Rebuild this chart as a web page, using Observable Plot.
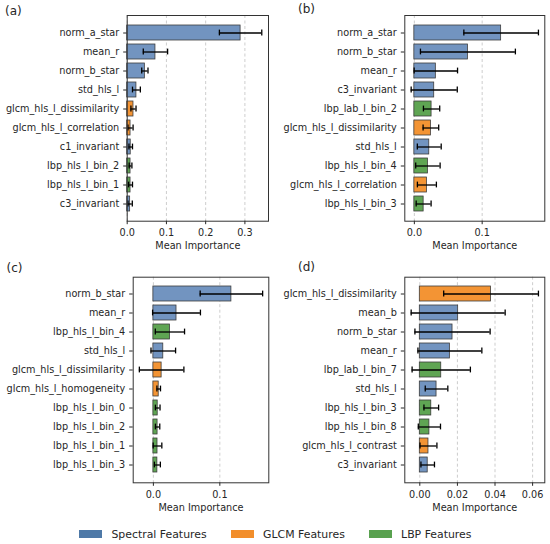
<!DOCTYPE html>
<html><head><meta charset="utf-8">
<script src="https://cdn.jsdelivr.net/npm/d3@7"></script>
<script src="https://cdn.jsdelivr.net/npm/@observablehq/plot@0.6"></script>
<style>
body{margin:0;background:#fff;}
#root{position:relative;width:550px;height:544px;font-family:"DejaVu Sans",sans-serif;color:#262626;}
.plabel{position:absolute;font-size:12px;line-height:14px;}
.leg{position:absolute;top:528px;height:12px;display:flex;align-items:center;font-size:10.9px;white-space:nowrap;}
.sw{display:inline-block;width:23px;height:8.5px;margin-right:9.4px;}
</style></head><body><div id="root"></div>
<script>
// ---- data ----
const groupNames = ["Spectral Features", "GLCM Features", "LBP Features"];
const barColors = ["#7294c0", "#f39434", "#5fa553"];
const legendColors = ["#4e79a7", "#f28e2b", "#59a14f"];

const aFeatures = ["norm_a_star","mean_r","norm_b_star","std_hls_l","glcm_hls_l_dissimilarity","glcm_hls_l_correlation","c1_invariant","lbp_hls_l_bin_2","lbp_hls_l_bin_1","c3_invariant"];
const aMean = [0.289,0.072,0.045,0.0235,0.016,0.0085,0.009,0.0085,0.0085,0.0075];
const aStd  = [0.054,0.031,0.008,0.010,0.0065,0.0065,0.0045,0.0035,0.005,0.0055];
const aGroup = ["Spectral Features","Spectral Features","Spectral Features","Spectral Features","GLCM Features","GLCM Features","Spectral Features","LBP Features","LBP Features","Spectral Features"];
const aTicks = [0, 0.1, 0.2, 0.3];

const bFeatures = ["norm_a_star","norm_b_star","mean_r","c3_invariant","lbp_lab_l_bin_2","glcm_hls_l_dissimilarity","std_hls_l","lbp_hls_l_bin_4","glcm_hls_l_correlation","lbp_hls_l_bin_3"];
const bMean = [0.128,0.079,0.0317,0.0293,0.0254,0.0244,0.022,0.020,0.0185,0.0137];
const bStd  = [0.055,0.070,0.032,0.034,0.012,0.0115,0.0176,0.018,0.014,0.011];
const bGroup = ["Spectral Features","Spectral Features","Spectral Features","Spectral Features","LBP Features","GLCM Features","Spectral Features","LBP Features","GLCM Features","LBP Features"];
const bTicks = [0, 0.1];

const cFeatures = ["norm_b_star","mean_r","lbp_hls_l_bin_4","std_hls_l","glcm_hls_l_dissimilarity","glcm_hls_l_homogeneity","lbp_hls_l_bin_0","lbp_hls_l_bin_2","lbp_hls_l_bin_1","lbp_hls_l_bin_3"];
const cMean = [0.1174,0.0348,0.0249,0.0149,0.0124,0.008,0.0065,0.0063,0.0062,0.006];
const cStd  = [0.047,0.036,0.022,0.0185,0.0335,0.0027,0.0035,0.0033,0.0065,0.0045];
const cGroup = ["Spectral Features","Spectral Features","LBP Features","Spectral Features","GLCM Features","GLCM Features","LBP Features","LBP Features","LBP Features","LBP Features"];
const cTicks = [0, 0.1];

const dFeatures = ["glcm_hls_l_dissimilarity","mean_b","norm_b_star","mean_r","lbp_lab_l_bin_7","std_hls_l","lbp_hls_l_bin_3","lbp_hls_l_bin_8","glcm_hls_l_contrast","c3_invariant"];
const dMean = [0.0379,0.0204,0.0174,0.016,0.0114,0.0089,0.0061,0.0051,0.0046,0.0042];
const dStd  = [0.0252,0.025,0.020,0.017,0.0155,0.006,0.0039,0.0059,0.0045,0.0036];
const dGroup = ["GLCM Features","Spectral Features","Spectral Features","Spectral Features","LBP Features","Spectral Features","LBP Features","LBP Features","GLCM Features","Spectral Features"];
const dTicks = [0, 0.02, 0.04, 0.06];

// ---- drawing ----
const root = document.getElementById("root");

function panel(features, means, stds, groups, ticks, fmt, box) {
  const data = features.map((f, i) => ({feature: f, mean: means[i], std: stds[i], group: groups[i]}));
  const lo = Math.min(0, d3.min(data, d => d.mean - d.std));
  const hi = d3.max(data, d => d.mean + d.std);
  const span = hi - lo;
  const domain = [lo < 0 ? lo - 0.05 * span : 0, hi + 0.05 * span];
  const svg = Plot.plot({
    width: 275, height: 252,
    marginLeft: box.ml, marginRight: box.mr, marginTop: box.mt, marginBottom: box.mb,
    style: {fontFamily: "DejaVu Sans", fontSize: "9.7px", color: "#262626", background: "transparent", overflow: "visible"},
    x: {domain, label: null},
    y: {domain: features, paddingInner: 0.2, paddingOuter: 0.49, label: null},
    color: {domain: groupNames, range: barColors},
    marks: [
      Plot.gridX({ticks, stroke: "#b0b0b0", strokeDasharray: "3,2.5", strokeOpacity: 0.8, strokeWidth: 0.8}),
      Plot.barX(data, {y: "feature", x1: 0, x2: "mean", fill: "group", stroke: "#3d3d3d", strokeWidth: 0.8}),
      Plot.ruleY(data, {y: "feature", x1: d => d.mean - d.std, x2: d => d.mean + d.std, stroke: "#000", strokeWidth: 1.3}),
      Plot.tickX(data, {y: "feature", x: d => d.mean - d.std, stroke: "#000", strokeWidth: 1.3, insetTop: 4.6, insetBottom: 4.6}),
      Plot.tickX(data, {y: "feature", x: d => d.mean + d.std, stroke: "#000", strokeWidth: 1.3, insetTop: 4.6, insetBottom: 4.6}),
      Plot.axisX({ticks, tickFormat: fmt, tickSize: 3.5, tickPadding: 4.5, label: null}),
      Plot.axisY({tickSize: 3.5, tickPadding: 4.5, label: null}),
      Plot.frame({stroke: "#333", strokeWidth: 1}),
      Plot.text(["Mean Importance"], {frameAnchor: "bottom", dy: 25, lineAnchor: "middle", fontSize: 9.7, fill: "#262626"})
    ]
  });
  svg.style.position = "absolute";
  svg.style.left = box.left + "px";
  svg.style.top = box.top + "px";
  root.appendChild(svg);
}

const f1 = d3.format(".1f"), f2 = d3.format(".2f");
panel(aFeatures, aMean, aStd, aGroup, aTicks, f1, {left: 0, top: 0, ml: 126.7, mr: 7, mt: 15, mb: 31.3});
panel(bFeatures, bMean, bStd, bGroup, bTicks, f1, {left: 275, top: 0, ml: 129.3, mr: 5.7, mt: 15, mb: 31.3});
panel(cFeatures, cMean, cStd, cGroup, cTicks, f1, {left: 0, top: 262, ml: 132.7, mr: 6.7, mt: 14.7, mb: 31.7});
panel(dFeatures, dMean, dStd, dGroup, dTicks, f2, {left: 275, top: 262, ml: 129.3, mr: 5.7, mt: 14.7, mb: 31.7});

// panel labels
[["(a)", 5, 4], ["(b)", 298, 2], ["(c)", 6.5, 261], ["(d)", 298, 260]].forEach(([t, x, y]) => {
  const el = document.createElement("div");
  el.className = "plabel"; el.textContent = t;
  el.style.left = x + "px"; el.style.top = y + "px";
  root.appendChild(el);
});

// legend
const legendLefts = [79, 230.7, 368.7];
groupNames.forEach((g, i) => {
  const el = document.createElement("div");
  el.className = "leg"; el.style.left = legendLefts[i] + "px";
  const sw = document.createElement("span");
  sw.className = "sw"; sw.style.background = legendColors[i];
  el.appendChild(sw);
  el.appendChild(document.createTextNode(g));
  root.appendChild(el);
});
</script>
</body></html>
